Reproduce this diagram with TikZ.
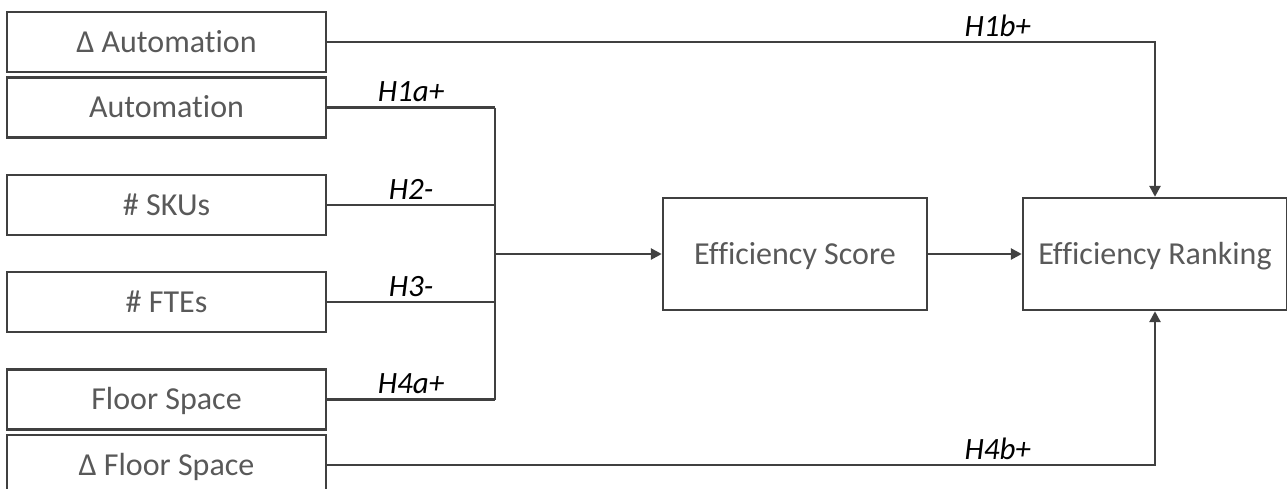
\documentclass[tikz,border=0pt]{standalone}
\usepackage{fontspec}
\setmainfont{Carlito}[Ligatures=NoCommon]
\usetikzlibrary{arrows.meta}

\definecolor{linegray}{HTML}{404040}
\definecolor{textgray}{HTML}{595959}

\begin{document}
\begin{tikzpicture}[x=0.5pt, y=-0.5pt,
        var/.style={draw=linegray, line width=1.2pt, text=textgray,
            minimum width=159.5pt, minimum height=30pt, inner sep=0pt,
            text height=10.3pt, text depth=0pt,
            font=\fontsize{16}{19}\selectfont},
        outcome/.style={var, minimum width=132pt, minimum height=56pt},
        wire/.style={draw=linegray, line width=1.3pt},
        hyp/.style={above, inner sep=2pt, text=black,
            font=\fontsize{15.5}{18}\selectfont\itshape},
        tip/.style={-{Triangle[length=5.5pt, width=5.5pt]}}]
        \useasboundingbox (0,0) rectangle (1287,488);

        % explanatory variables
        \node[var] (dauto) at (166.5,42) {Δ Automation};
        \node[var] (auto) at (166.5,107.5) {Automation};
        \node[var] (skus) at (166.5,205) {\# SKUs};
        \node[var] (ftes) at (166.5,302) {\# FTEs};
        \node[var] (floor) at (166.5,399.5) {Floor Space};
        \node[var] (dfloor) at (166.5,465) {Δ Floor Space};

        % outcomes
        \node[outcome] (score) at (795,254) {Efficiency Score};
        \node[outcome] (rank) at (1155,254) {Efficiency Ranking};

        \coordinate (bus) at (495,254);

        \foreach \n/\h in {auto/H1a+, skus/H2-, ftes/H3-, floor/H4a+}
            \draw[wire] (\n.east) -- node[hyp] {\h} (\n.east -| bus);
        \draw[wire] (auto.east -| bus) -- (floor.east -| bus);
        \draw[wire, tip] (bus) -- (score.west);
        \draw[wire, tip] (score.east) -- (rank.west);

        \draw[wire, tip] (dauto.east) -- node[hyp, pos=0.81] {H1b+} (dauto.east -| rank.north) -- (rank.north);
        \draw[wire, tip] (dfloor.east) -- node[hyp, pos=0.81] {H4b+} (dfloor.east -| rank.south) -- (rank.south);
    \end{tikzpicture}
\end{document}
